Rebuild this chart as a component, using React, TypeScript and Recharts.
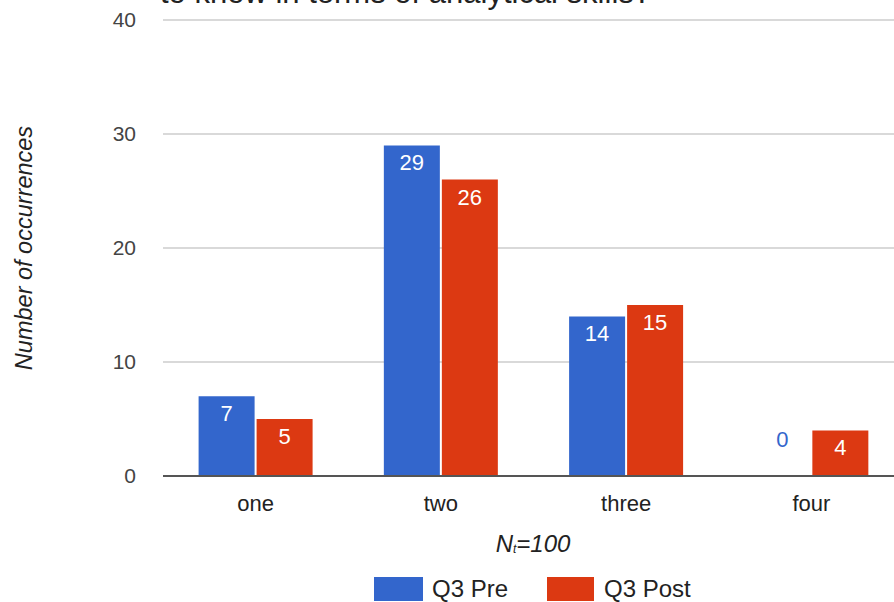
import React from "react";
import { BarChart, Bar, XAxis, YAxis, CartesianGrid, LabelList } from "recharts";

const categories = ["one", "two", "three", "four"];
const q3Pre = [7, 29, 14, 0];
const q3Post = [5, 26, 15, 4];
const yTicks = [0, 10, 20, 30, 40];

const PRE_COLOR = "#3366cc";
const POST_COLOR = "#dc3912";
const FONT = "'Liberation Sans', Arial, sans-serif";
const BAR_GAP = 2;

const data = categories.map((c, i) => ({ cat: c, pre: q3Pre[i], post: q3Post[i] }));

const valueText = (x: number, y: number, value: number, color: string) => (
  <text x={x} y={y} textAnchor="middle" fill={color} fontSize={22} fontFamily={FONT}>
    {value}
  </text>
);

// white value labels inside the top of each bar
const preLabel = (props: any) => {
  const { x, y, width, value } = props;
  if (Number(value) === 0) return null;
  return valueText(Number(x) + Number(width) / 2, Number(y) + 25, value, "#ffffff");
};

// post labels; a zero "pre" bar in the same group gets its label drawn here, above the baseline
const postLabel = (props: any) => {
  const { x, y, width, height, value, index } = props;
  const w = Number(width);
  const base = Number(y) + Number(height);
  const pre = q3Pre[index];
  return (
    <g>
      {Number(value) === 0
        ? valueText(Number(x) + w / 2, base - 29, value, POST_COLOR)
        : valueText(Number(x) + w / 2, Number(y) + 25, value, "#ffffff")}
      {pre === 0 && valueText(Number(x) - BAR_GAP - w / 2, base - 29, pre, PRE_COLOR)}
    </g>
  );
};

export default function App() {
  return (
    <div style={{ position: "fixed", left: 0, top: 0, width: 894, height: 602, overflow: "hidden", background: "#fff" }}>
      <BarChart
        width={920}
        height={602}
        data={data}
        margin={{ top: 20, right: 16, left: 0, bottom: 86 }}
        barGap={BAR_GAP}
        barCategoryGap={35.6}
      >
        <CartesianGrid vertical={false} stroke="#cccccc" strokeWidth={1.5} />
        <XAxis
          dataKey="cat"
          height={40}
          tickLine={false}
          tickSize={0}
          tickMargin={19}
          axisLine={{ stroke: "#555555", strokeWidth: 2 }}
          tick={{ fill: "#222222", fontSize: 22, fontFamily: FONT }}
        />
        <YAxis
          width={163}
          domain={[0, 40]}
          ticks={yTicks}
          axisLine={false}
          tickLine={false}
          tickSize={0}
          tickMargin={27}
          tick={{ fill: "#444444", fontSize: 21, fontFamily: FONT }}
          label={{
            content: () => (
              <text
                transform="translate(32,248) rotate(-90)"
                textAnchor="middle"
                fill="#222222"
                fontSize={23.5}
                fontStyle="italic"
                fontFamily={FONT}
              >
                Number of occurrences
              </text>
            ),
          }}
        />
        <Bar dataKey="pre" name="Q3 Pre" fill={PRE_COLOR} isAnimationActive={false}>
          <LabelList dataKey="pre" content={preLabel} />
        </Bar>
        <Bar dataKey="post" name="Q3 Post" fill={POST_COLOR} isAnimationActive={false}>
          <LabelList dataKey="post" content={postLabel} />
        </Bar>
      </BarChart>
      <svg
        width={894}
        height={602}
        style={{ position: "absolute", left: 0, top: 0, pointerEvents: "none" }}
        fontFamily={FONT}
      >
        <text x={160} y={3} fontSize={31} fill="#222222">
          to know in terms of analytical skills?
        </text>
        <text x={533} y={552} textAnchor="middle" fontSize={24} fontStyle="italic" fill="#222222">
          N<tspan fontSize={12} dy={1}>t</tspan>
          <tspan dy={-1}>=100</tspan>
        </text>
        <rect x={374} y={577} width={49} height={24} fill={PRE_COLOR} />
        <text x={432} y={597} fontSize={24} fill="#222222">
          Q3 Pre
        </text>
        <rect x={547} y={577} width={47} height={24} fill={POST_COLOR} />
        <text x={604} y={597} fontSize={24} fill="#222222">
          Q3 Post
        </text>
      </svg>
    </div>
  );
}
